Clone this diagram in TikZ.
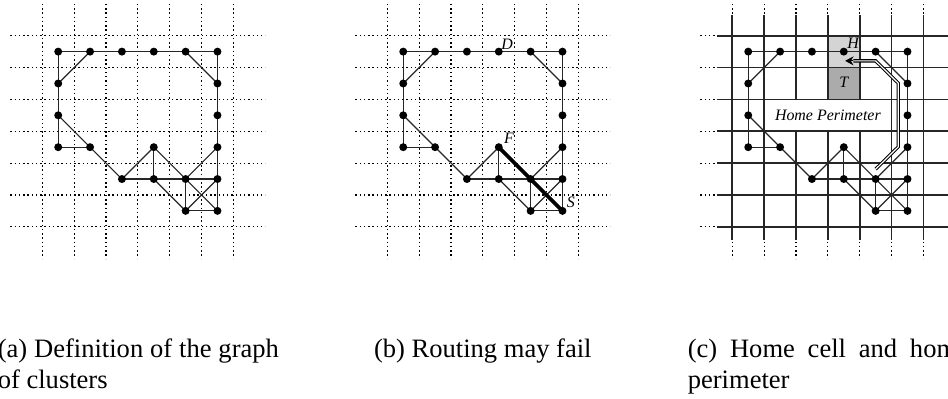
\documentclass[tikz,border=0pt]{standalone}
\usepackage{fontspec}
\setmainfont{Liberation Serif}
\usetikzlibrary{arrows.meta}
\tikzset{
  dot/.style={circle,fill=black,inner sep=0pt,minimum size=3pt},
  edge/.style={line width=0.45pt,black!85},
  thickedge/.style={line width=1.4pt,black},
  dotgrid/.style={line width=0.45pt,black,dash pattern=on 0.55pt off 1.05pt},
  solidgrid/.style={line width=0.65pt,black!85},
  lbl/.style={font=\fontsize{6}{7}\selectfont\itshape,inner sep=0pt},
  capline/.style={font=\fontsize{10}{12}\selectfont,inner sep=0pt,anchor=base west},
  capcenter/.style={font=\fontsize{10}{12}\selectfont,inner sep=0pt,anchor=base},
  homebox/.style={draw=black!85,line width=0.65pt,fill=white,inner sep=0pt},
  routeline/.style={line width=0.4pt,double=white,double distance=0.45pt},
  routetip/.style={line width=0.4pt,-{Stealth[length=3.2pt,width=3.4pt]}},
}
\newcommand{\dottedgrid}{%
  \foreach \k in {0,...,6}{
    \draw[dotgrid] (\k,-1) -- (\k,7);
    \draw[dotgrid] (-1,\k) -- (7,\k);
  }}
\newcommand{\clgraph}[1]{%
  \foreach \c/\r in {0/0,1/0,2/0,3/0,4/0,5/0,0/1,5/1,0/2,5/2,0/3,1/3,3/3,5/3,2/4,3/4,4/4,5/4,4/5,5/5}
    \coordinate (#1\c\r) at (\c+0.5,\r+0.5);
  \foreach \u/\v in {00/10,10/20,20/30,30/40,40/50,00/01,10/01,01/02,02/03,03/13,02/13,13/24,
      24/33,33/34,24/34,34/44,44/54,33/44,44/55,34/45,44/45,45/55,54/45,53/44,
      50/51,51/52,52/53,53/54,54/55,40/51}
    \draw[edge] (#1\u) -- (#1\v);
}
\newcommand{\cldots}[1]{%
  \foreach \c/\r in {0/0,1/0,2/0,3/0,4/0,5/0,0/1,5/1,0/2,5/2,0/3,1/3,3/3,5/3,2/4,3/4,4/4,5/4,4/5,5/5}
    \node[dot] (#1d\c\r) at (#1\c\r) {};
}
\begin{document}
\begin{tikzpicture}[x=12pt,y=-12pt]
\useasboundingbox (-1.328,-1.121) rectangle (28.436,11.376);

% ---------- panel (a)
\begin{scope}
  \dottedgrid
  \clgraph{a}
  \cldots{a}
  \node[capline] (capa1) at (-1.413,10.09) {\makebox[105.9pt][s]{(a) Definition of the graph}};
  \node[capline] (capa2) at (-1.413,11.09) {of clusters};
\end{scope}

% ---------- panel (b)
\begin{scope}[shift={(10.832,0)}]
  \dottedgrid
  \clgraph{b}
  \draw[thickedge] (b33) -- (b55);
  \cldots{b}
  \node[lbl] (lD) at (3.76,0.26) {D};
  \node[lbl] (lF) at (3.82,3.22) {F};
  \node[lbl] (lS) at (5.76,5.23) {S};
  \node[capcenter] (capb) at (3.0,10.09) {(b) Routing may fail};
\end{scope}

% ---------- panel (c)
\begin{scope}[shift={(21.664,0)}]
  \fill[black!17] (3,0) rectangle (4,1);
  \fill[black!33] (3,1) rectangle (4,2);
  \dottedgrid
  \foreach \k in {0,...,6}{
    \draw[solidgrid] (\k,-0.65) -- (\k,6.41);
    \draw[solidgrid] (-0.49,\k) -- (7,\k);
  }
  \node[homebox,minimum width=48pt,minimum height=12pt] (home) at (3,2.5) {};
  \node[font=\fontsize{6}{7}\selectfont\itshape,inner sep=0pt] (hometxt) at (3,2.49) {Home Perimeter};
  \clgraph{c}
  \coordinate (r1) at (4.50,4.19);
  \coordinate (r2) at (5.21,3.49);
  \coordinate (r3) at (5.21,1.49);
  \coordinate (r4) at (4.50,0.79);
  \coordinate (r5b) at (3.80,0.79);
  \coordinate (r5) at (3.54,0.79);
  \draw[routeline] (r1) -- (r2) -- (r3) -- (r4) -- (r5b);
  \draw[routetip] (r5b) -- (r5);
  \cldots{c}
  \node[lbl] (lH) at (3.79,0.24) {H};
  \node[lbl] (lT) at (3.5,1.45) {T};
  \node[capline] (capc1) at (-1.413,10.09) {\makebox[105.9pt][s]{(c) Home cell and home}};
  \node[capline] (capc2) at (-1.413,11.09) {perimeter};
\end{scope}
\end{tikzpicture}
\end{document}
